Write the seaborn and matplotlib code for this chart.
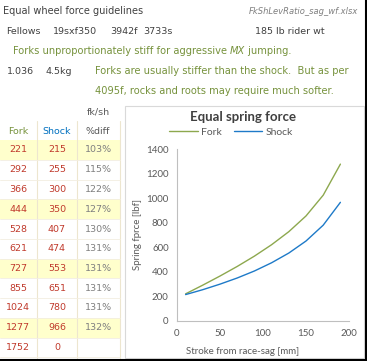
import numpy as np
import pandas as pd
import matplotlib
matplotlib.use("Agg")
import matplotlib.pyplot as plt
import seaborn as sns
from matplotlib.patches import Rectangle
from matplotlib.lines import Line2D

sns.set_style("white")
plt.rcParams["font.family"] = ["DejaVu Sans"]

# data
stroke = [10, 30, 50, 70, 90, 110, 130, 150, 170, 190]
fork = [221, 292, 366, 444, 528, 621, 727, 855, 1024, 1277]
shock = [215, 255, 300, 350, 407, 474, 553, 651, 780, 966]
pct = ["103%", "115%", "122%", "127%", "130%", "131%", "131%", "131%", "131%", "132%"]
last_row = ["1752", "0", ""]

W, H = 367, 361
fig = plt.figure(figsize=(W / 100, H / 100), dpi=100)
fig.patch.set_facecolor("white")

def fx(x):
    return x / W

def fy(y):
    return 1 - y / H

def txt(x, y, s, **kw):
    kw.setdefault("va", "center")
    kw.setdefault("fontsize", 6.8)
    return fig.text(fx(x), fy(y), s, **kw)

def rect(x0, y0, x1, y1, **kw):
    fig.patches.append(Rectangle((fx(x0), fy(y1)), fx(x1) - fx(x0), fy(y0) - fy(y1),
                                 transform=fig.transFigure, figure=fig, zorder=-1, **kw))

green = "#76923C"
blue = "#0070C0"
red = "#C0392B"
grey = "#7F7F7F"
dark = "#404040"

# header lines
txt(3, 11, "Equal wheel force guidelines", color=dark, fontsize=7)
txt(358, 11, "FkShLevRatio_sag_wf.xlsx", color=grey, fontsize=6, ha="right", style="italic")
txt(6, 32, "Fellows", color=dark)
txt(53, 32, "19sxf350", color=dark)
txt(110, 32, "3942f", color=dark)
txt(143, 32, "3733s", color=dark)
txt(255, 32, "185 lb rider wt", color=dark)

# green note with italic MX
fig.canvas.draw()
r = fig.canvas.get_renderer()
x = 13
for piece, st in [("Forks unproportionately stiff for aggressive ", "normal"), ("MX", "italic"), (" jumping.", "normal")]:
    t = txt(x, 51, piece, color=green, style=st, fontsize=7.1)
    x += t.get_window_extent(r).width
txt(7, 71, "1.036", color=dark)
txt(45, 71, "4.5kg", color=dark)
txt(95, 71, "Forks are usually stiffer than the shock.  But as per", color=green, fontsize=7.1)
txt(95, 91, "4095f, rocks and roots may require much softer.", color=green, fontsize=7.1)

# table
cols = [18, 57, 98]
row_h = 19.75
y_first = 150
for i in range(len(fork) + 1):
    yc = y_first + i * row_h
    if i % 3 == 0 and i < len(fork):
        rect(0, yc - row_h / 2, 120, yc + row_h / 2, facecolor="#FFFFCC", edgecolor="none")
for xl in [37, 77, 120]:
    fig.add_artist(Line2D([fx(xl), fx(xl)], [fy(121), fy(358)], color="#EDE6CF", lw=0.8))
for i in range(len(fork) + 1):
    yb = y_first + i * row_h + row_h / 2
    fig.add_artist(Line2D([0, fx(120)], [fy(yb), fy(yb)], color="#F3EEE0", lw=0.6))

txt(cols[2], 112, "fk/sh", color="#595959", ha="center")
txt(cols[0], 131, "Fork", color=green, ha="center")
txt(cols[1], 131, "Shock", color=blue, ha="center")
txt(cols[2], 131, "%diff", color="#595959", ha="center")
for i in range(len(fork)):
    yc = y_first + i * row_h
    txt(cols[0], yc, str(fork[i]), color=red, ha="center")
    txt(cols[1], yc, str(shock[i]), color=red, ha="center")
    txt(cols[2], yc, pct[i], color=grey, ha="center")
yc = y_first + len(fork) * row_h
txt(cols[0], yc, last_row[0], color=red, ha="center")
txt(cols[1], yc, last_row[1], color=red, ha="center")

# chart frame
rect(125, 106, 364, 358, facecolor="white", edgecolor="#D9D9D9", lw=0.8)

df = pd.DataFrame({
    "stroke": stroke + stroke,
    "force": fork + shock,
    "series": ["Fork"] * len(fork) + ["Shock"] * len(shock),
})
lc = {"Fork": "#8DA84E", "Shock": "#1E7AC8"}

ax = fig.add_axes([fx(177), fy(321), fx(349) - fx(177), fy(149) - fy(321)])
ax.set_zorder(2)
ax.set_facecolor("none")
sns.lineplot(data=df, x="stroke", y="force", hue="series", palette=lc, ax=ax,
             legend=False, lw=1.0)
ax.set_xlim(0, 200)
ax.set_ylim(0, 1400)
ax.set_xticks([0, 50, 100, 150, 200])
ax.set_yticks(range(0, 1401, 200))
for s in ["top", "right"]:
    ax.spines[s].set_visible(False)
for s in ["left", "bottom"]:
    ax.spines[s].set_color("#BFBFBF")
    ax.spines[s].set_linewidth(0.8)
ax.tick_params(length=0, labelsize=7, labelcolor="#595959", pad=6)
for lab in ax.get_xticklabels() + ax.get_yticklabels():
    lab.set_family("Lato")
ax.set_xlabel("")
ax.set_ylabel("")

fig.text(fx(137), fy(235), "Spring fprce [lbf]", rotation=90, ha="center", va="center",
         fontsize=7, color="#595959", family="Lato")
fig.text(fx(243), fy(351), "Stroke from race-sag [mm]", ha="center", va="center",
         fontsize=7, color="#595959", family="Lato")
fig.text(fx(243), fy(117), "Equal spring force", ha="center", va="center",
         fontsize=9.5, color="#404040", family="Lato", weight="bold")

handles = [Line2D([], [], color=lc["Fork"], lw=1.0), Line2D([], [], color=lc["Shock"], lw=1.0)]
fig.legend(handles, ["Fork", "Shock"], loc="center", bbox_to_anchor=(fx(231), fy(132)),
           ncol=2, frameon=False, prop={"family": "Lato", "size": 7.5},
           labelcolor="#595959", handlelength=2.7, handletextpad=0.3, columnspacing=1.2)

# black frame edges on right and bottom
fig.add_artist(Line2D([fx(365.5), fx(365.5)], [0, 1], color="black", lw=1.5))
fig.add_artist(Line2D([0, 1], [fy(359.5), fy(359.5)], color="black", lw=1.5))

fig.savefig("out.png", dpi=100)
